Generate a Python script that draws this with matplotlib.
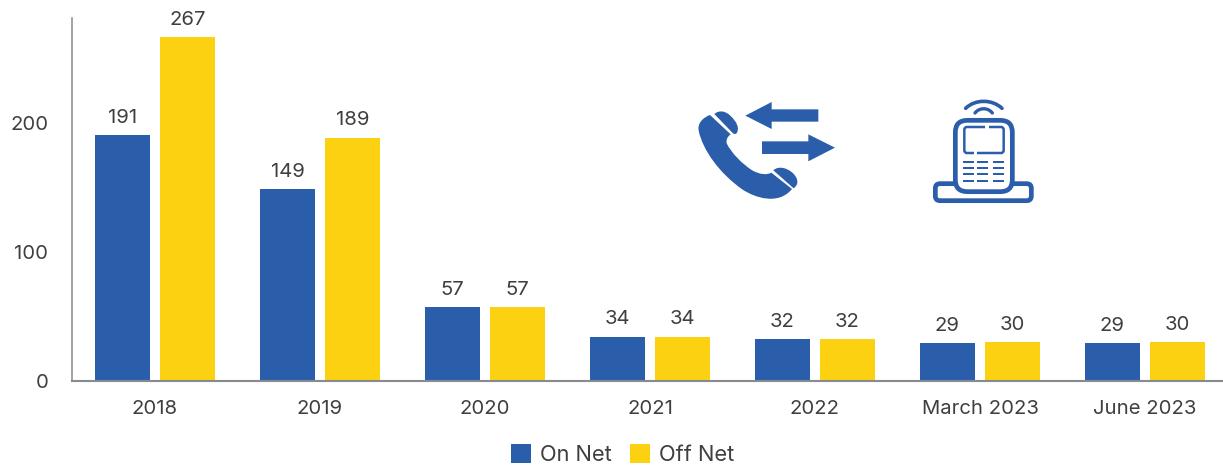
import matplotlib
matplotlib.use("Agg")
import matplotlib.pyplot as plt
from matplotlib.path import Path
from matplotlib.patches import PathPatch, FancyBboxPatch, Polygon, Rectangle
from matplotlib.transforms import Affine2D

categories = ["2018", "2019", "2020", "2021", "2022", "March 2023", "June 2023"]
on_net = [191, 149, 57, 34, 32, 29, 29]
off_net = [267, 189, 57, 34, 32, 30, 30]
y_ticks = [0, 100, 200]

BLUE = "#2B5EAA"
YEL = "#FBD112"
TXT = "#3F3F3F"
AX = "#868B8F"
FS = 14.6

plt.rcParams["font.family"] = ["Inter", "DejaVu Sans"]
W, H = 1223, 468
fig = plt.figure(figsize=(W / 100, H / 100), dpi=100, facecolor="white")
ax = fig.add_axes([72 / W, (H - 380.5) / H, (1222 - 72) / W, 362.5 / H])

x = list(range(len(categories)))
bw = 55 / 165
off = 32.5 / 165
b1 = ax.bar([i - off for i in x], on_net, bw, color=BLUE, label="On Net")
b2 = ax.bar([i + off for i in x], off_net, bw, color=YEL, label="Off Net")
for b in (b1, b2):
    ax.bar_label(b, padding=6, fontsize=FS, color=TXT)

ax.set_xlim(-0.503, 6.467)
ax.set_ylim(0, 282)
ax.set_xticks(x, categories)
ax.set_yticks(y_ticks)
ax.tick_params(axis="x", length=0, pad=14, labelsize=FS, labelcolor=TXT)
ax.tick_params(axis="y", length=0, pad=17, labelsize=FS, labelcolor=TXT)
for s in ("top", "right"):
    ax.spines[s].set_visible(False)
ax.spines["bottom"].set_color(AX)
ax.spines["bottom"].set_linewidth(1.5)
ax.spines["left"].set_color(AX)
ax.spines["left"].set_linewidth(1.1)

fig.legend(handles=[b1, b2], loc="center", bbox_to_anchor=(622.5 / W, 1 - 454.5 / H),
           ncol=2, frameon=False, fontsize=15.7, labelcolor=TXT,
           handlelength=0.92, handleheight=0.92, handletextpad=0.41,
           columnspacing=0.87, borderpad=0, borderaxespad=0)

# decorative icons, drawn on an overlay in pixel space
ov = fig.add_axes([0, 0, 1, 1], facecolor="none")
ov.set_xlim(0, W)
ov.set_ylim(H, 0)
ov.axis("off")
tf = Affine2D().scale(1 / 3).translate(680, 85) + ov.transData

def curve(verts_codes, **kw):
    verts = [v for v, _ in verts_codes]
    codes = [c for _, c in verts_codes]
    ov.add_patch(PathPatch(Path(verts, codes), transform=tf, **kw))

M, L, C, Z = Path.MOVETO, Path.LINETO, Path.CURVE4, Path.CLOSEPOLY
# handset body
curve([((90, 90), M),
       ((68, 98), C), ((52, 115), C), ((56, 137), C),
       ((68, 195), C), ((118, 265), C), ((188, 314), C),
       ((225, 338), C), ((295, 362), C), ((336, 312), C),
       ((274, 263), L),
       ((262, 270), C), ((240, 270), C), ((215, 255), C),
       ((185, 235), C), ((155, 205), C), ((140, 175), C),
       ((138, 165), C), ((142, 155), C), ((152, 148), C),
       ((90, 90), L), ((90, 90), Z)], fc=BLUE, ec="none")
# ear and mouth pads
curve([((103, 87), M),
       ((118, 74), C), ((138, 78), C), ((153, 94), C),
       ((168, 108), C), ((182, 130), C), ((168, 147), C),
       ((160, 146), L), ((103, 87), L), ((103, 87), Z)], fc=BLUE, ec="none")
curve([((280, 256), M),
       ((295, 242), C), ((320, 248), C), ((337, 263), C),
       ((352, 276), C), ((360, 296), C), ((341, 310), C),
       ((280, 256), L), ((280, 256), Z)], fc=BLUE, ec="none")
# arrows
ov.add_patch(Polygon([(196, 92), (275, 51), (275, 73), (415, 73), (415, 110), (275, 110), (275, 132)],
                     transform=tf, fc=BLUE, ec="none"))
ov.add_patch(Polygon([(465, 188), (385, 148), (385, 169), (246, 169), (246, 207), (385, 207), (385, 229)],
                     transform=tf, fc=BLUE, ec="none"))

# cordless phone: base
ov.add_patch(FancyBboxPatch((766, 296), 288, 51, boxstyle="round,pad=0,rounding_size=14",
                            transform=tf, fc="white", ec=BLUE, lw=3.4))
# body
ov.add_patch(FancyBboxPatch((826, 106), 171, 214, boxstyle="round,pad=0,rounding_size=36",
                            transform=tf, fc="white", ec=BLUE, lw=3.4))
# screen
ov.add_patch(FancyBboxPatch((853, 126), 118, 78, boxstyle="round,pad=0,rounding_size=8",
                            transform=tf, fc="none", ec=BLUE, lw=1.8))
for (x0, x1, yy) in [(915, 926, 126), (882, 892, 204)]:
    ov.add_patch(Rectangle((x0, yy - 5), x1 - x0, 10, transform=tf, fc="white", ec="none"))
# keypad
for yy in (230, 249, 268, 288):
    for x0, x1 in ((850, 882), (892, 925), (938, 972)):
        ov.add_patch(Rectangle((x0, yy - 3.5), x1 - x0, 7, transform=tf, fc=BLUE, ec="none"))
# signal arcs
curve([((857, 70), M), ((885, 42), C), ((937, 42), C), ((966, 70), C)],
      fc="none", ec=BLUE, lw=2.6, capstyle="round")
curve([((885, 84), M), ((898, 67), C), ((924, 67), C), ((937, 84), C)],
      fc="none", ec=BLUE, lw=2.4, capstyle="round")

fig.savefig("out.png", dpi=100)
